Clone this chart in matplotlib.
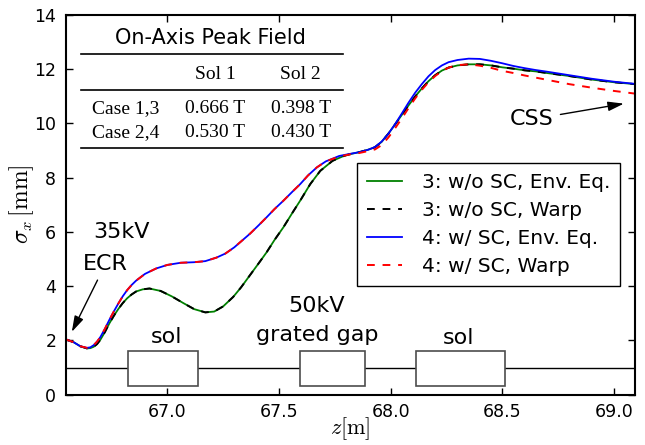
import matplotlib
matplotlib.use("Agg")
import matplotlib.pyplot as plt
from matplotlib.lines import Line2D
from matplotlib.patches import Rectangle

plt.rcParams['mathtext.fontset'] = 'cm'
plt.rcParams['font.family'] = 'DejaVu Sans'

# case 3: without space charge (env. eq. and warp agree)
z_nosc = [66.546, 66.58, 66.61, 66.64, 66.655, 66.67, 66.685, 66.70, 66.72, 66.74,
          66.76, 66.78, 66.80, 66.82, 66.84, 66.86, 66.89, 66.92, 66.97, 67.02,
          67.07, 67.12, 67.17, 67.21, 67.25, 67.295, 67.33, 67.37, 67.41, 67.445,
          67.48, 67.52, 67.56, 67.595, 67.64, 67.685, 67.74, 67.79, 67.82, 67.86,
          67.895, 67.93, 67.96, 67.99, 68.02, 68.05, 68.08, 68.11, 68.14, 68.17,
          68.20, 68.23, 68.26, 68.30, 68.35, 68.40, 68.45, 68.50, 68.55, 68.60,
          68.65, 68.70, 68.80, 68.90, 69.00, 69.095]
sig_nosc = [2.03, 1.93, 1.78, 1.70, 1.71, 1.76, 1.86, 2.02, 2.30, 2.62,
            2.90, 3.15, 3.37, 3.55, 3.69, 3.80, 3.88, 3.91, 3.82, 3.62,
            3.38, 3.15, 3.03, 3.06, 3.25, 3.60, 3.95, 4.40, 4.85, 5.25,
            5.70, 6.17, 6.70, 7.15, 7.76, 8.25, 8.62, 8.80, 8.87, 8.94,
            9.02, 9.12, 9.32, 9.62, 9.96, 10.31, 10.66, 10.99, 11.29, 11.56,
            11.78, 11.95, 12.06, 12.14, 12.18, 12.18, 12.14, 12.07, 12.02, 11.96,
            11.92, 11.86, 11.75, 11.62, 11.52, 11.45]

# case 4: with space charge, envelope equation
z_sc = [66.546, 66.58, 66.61, 66.64, 66.655, 66.67, 66.685, 66.70, 66.72, 66.74,
        66.76, 66.78, 66.80, 66.82, 66.84, 66.86, 66.90, 66.95, 67.00, 67.06,
        67.12, 67.17, 67.22, 67.26, 67.30, 67.335, 67.37, 67.41, 67.445, 67.48,
        67.52, 67.56, 67.595, 67.63, 67.67, 67.71, 67.77, 67.82, 67.86, 67.90,
        67.93, 67.96, 67.99, 68.02, 68.05, 68.08, 68.11, 68.14, 68.17, 68.20,
        68.23, 68.26, 68.30, 68.35, 68.40, 68.45, 68.50, 68.55, 68.60, 68.65,
        68.70, 68.80, 68.90, 69.00, 69.095]
sig_sc = [2.03, 1.93, 1.78, 1.72, 1.74, 1.82, 1.95, 2.12, 2.42, 2.75,
          3.06, 3.35, 3.62, 3.85, 4.04, 4.20, 4.45, 4.65, 4.78, 4.86,
          4.88, 4.92, 5.05, 5.20, 5.43, 5.68, 5.93, 6.25, 6.54, 6.84,
          7.15, 7.48, 7.76, 8.08, 8.38, 8.60, 8.80, 8.88, 8.94, 9.03,
          9.13, 9.33, 9.62, 9.97, 10.36, 10.76, 11.13, 11.45, 11.74, 11.97,
          12.14, 12.26, 12.34, 12.39, 12.38, 12.31, 12.22, 12.12, 12.04, 11.97,
          11.91, 11.78, 11.65, 11.54, 11.46]

# case 4: with space charge, warp
z_sc_warp = [66.546, 66.58, 66.61, 66.64, 66.655, 66.67, 66.685, 66.70, 66.72, 66.74,
             66.76, 66.78, 66.80, 66.82, 66.84, 66.86, 66.90, 66.95, 67.00, 67.06,
             67.12, 67.17, 67.22, 67.26, 67.30, 67.335, 67.37, 67.41, 67.445, 67.48,
             67.52, 67.56, 67.595, 67.63, 67.67, 67.71, 67.77, 67.82, 67.86, 67.90,
             67.93, 67.96, 67.99, 68.02, 68.05, 68.08, 68.11, 68.14, 68.17, 68.20,
             68.23, 68.26, 68.30, 68.35, 68.40, 68.45, 68.50, 68.55, 68.60, 68.65,
             68.70, 68.80, 68.90, 69.00, 69.095]
sig_sc_warp = [2.03, 1.93, 1.78, 1.72, 1.74, 1.82, 1.95, 2.12, 2.42, 2.75,
               3.06, 3.35, 3.62, 3.85, 4.04, 4.20, 4.45, 4.65, 4.78, 4.86,
               4.88, 4.92, 5.05, 5.20, 5.43, 5.68, 5.93, 6.25, 6.54, 6.84,
               7.15, 7.48, 7.76, 8.08, 8.38, 8.60, 8.78, 8.86, 8.91, 8.98,
               9.04, 9.20, 9.48, 9.82, 10.18, 10.56, 10.92, 11.24, 11.52, 11.75,
               11.93, 12.06, 12.15, 12.18, 12.13, 12.05, 11.94, 11.86, 11.77, 11.69,
               11.61, 11.45, 11.32, 11.20, 11.10]

# beamline elements (start, end) in z
elem_start = [66.823, 67.593, 68.115]
elem_end = [67.137, 67.885, 68.514]
beamline_y = 0.96
box_lo, box_hi = 0.32, 1.6

table_cols = ["Sol 1", "Sol 2"]
table_rows = ["Case 1,3", "Case 2,4"]
table_vals = [["0.666 T", "0.398 T"], ["0.530 T", "0.430 T"]]

fig = plt.figure(figsize=(6.45, 4.45), dpi=100)
ax = fig.add_axes([66 / 645, 50.5 / 445, 569 / 645, 379.5 / 445])

dash = (0, (4, 4))
ax.plot(z_nosc, sig_nosc, color='g', lw=1.3, label='3: w/o SC, Env. Eq.')
ax.plot(z_nosc, sig_nosc, color='k', lw=1.4, ls=dash, label='3: w/o SC, Warp')
ax.plot(z_sc, sig_sc, color='b', lw=1.3, label='4: w/ SC, Env. Eq.')
ax.plot(z_sc_warp, sig_sc_warp, color='r', lw=1.4, ls=dash, label='4: w/ SC, Warp')

# beamline sketch
ax.axhline(beamline_y, color='k', lw=1.0, zorder=1)
for s, e in zip(elem_start, elem_end):
    ax.add_patch(Rectangle((s, box_lo), e - s, box_hi - box_lo, facecolor='white',
                           edgecolor='0.3', lw=1.2, zorder=2))

ax.text(66.997, 2.12, 'sol', fontsize=16, ha='center', va='center')
ax.text(68.306, 2.10, 'sol', fontsize=16, ha='center', va='center')
ax.text(67.67, 3.25, '50kV', fontsize=16, ha='center', va='center')
ax.text(67.67, 2.19, 'grated gap', fontsize=16, ha='center', va='center')
ax.text(66.794, 5.99, '35kV', fontsize=16, ha='center', va='center')
arrow = dict(arrowstyle='-|>,head_length=0.6,head_width=0.18', color='k', lw=1.0,
             shrinkA=3, shrinkB=0)
ax.annotate('ECR', xy=(66.572, 2.31), xytext=(66.724, 4.83), fontsize=16,
            ha='center', va='center', arrowprops=arrow)
ax.annotate('CSS', xy=(69.045, 10.73), xytext=(68.632, 10.15), fontsize=16,
            ha='center', va='center', arrowprops=arrow)

# peak field table
ax.text(0.253, 0.9228, 'On-Axis Peak Field', fontsize=15, ha='center',
        va='baseline', transform=ax.transAxes)
for yy in [0.8964, 0.8024, 0.6487]:
    ax.add_line(Line2D([0.0258, 0.4873], [yy, yy], color='k', lw=1.2,
                       transform=ax.transAxes))
col_x = [0.2619, 0.4125]
for cx, name in zip(col_x, table_cols):
    ax.text(cx, 0.8314, name, fontsize=14, family='Liberation Serif',
            ha='center', va='baseline', transform=ax.transAxes)
for ry, rname, rvals in zip([0.741, 0.6777], table_rows, table_vals):
    ax.text(0.0462, ry, rname, fontsize=14, family='Liberation Serif',
            ha='left', va='baseline', transform=ax.transAxes)
    for cx, v in zip(col_x, rvals):
        ax.text(cx, ry, v, fontsize=14, family='Liberation Serif',
                ha='center', va='baseline', transform=ax.transAxes)

leg = ax.legend(loc='upper right', bbox_to_anchor=(0.974, 0.61), borderaxespad=0,
                fontsize=14.5, fancybox=False, framealpha=1, handlelength=1.7,
                labelspacing=0.45, handletextpad=1.0, borderpad=0.5)
leg.get_frame().set_edgecolor('k')
leg.get_frame().set_linewidth(1.0)

ax.set_xlim(66.546, 69.095)
ax.set_ylim(0, 14)
ax.set_xticks([67.0, 67.5, 68.0, 68.5, 69.0])
ax.set_xticklabels(['67.0', '67.5', '68.0', '68.5', '69.0'])
ax.set_yticks(range(0, 15, 2))
ax.tick_params(direction='in', top=True, right=True, length=5, width=1,
               labelsize=12.5, pad=7)
ax.tick_params(axis='x', pad=6)
for sp in ax.spines.values():
    sp.set_linewidth(1.5)

ax.set_xlabel(r'$z[\mathrm{m}]$', fontsize=16, labelpad=-4)
ax.set_ylabel(r'$\sigma_x\,[\mathrm{mm}]$', fontsize=17, labelpad=-1)

fig.savefig('out.png', dpi=100)
